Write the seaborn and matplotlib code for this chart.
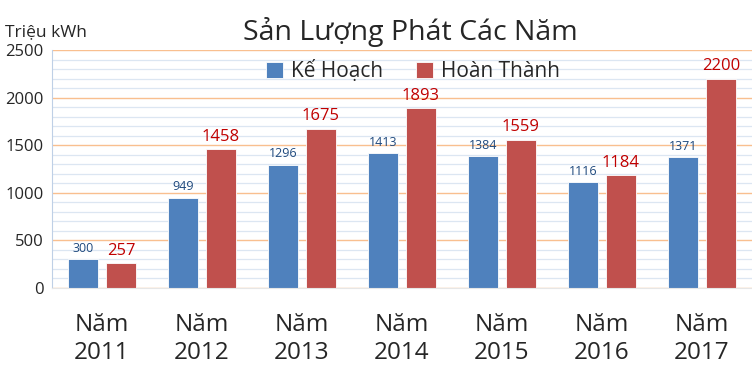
import seaborn as sns
import matplotlib.pyplot as plt
import pandas as pd
from matplotlib.ticker import MultipleLocator

years = ['Năm\n2011', 'Năm\n2012', 'Năm\n2013', 'Năm\n2014', 'Năm\n2015', 'Năm\n2016', 'Năm\n2017']
ke_hoach = [300, 949, 1296, 1413, 1384, 1116, 1371]
hoan_thanh = [257, 1458, 1675, 1893, 1559, 1184, 2200]
series = ['Kế Hoạch', 'Hoàn Thành']

df = pd.DataFrame({
    'year': years * 2,
    'value': ke_hoach + hoan_thanh,
    'series': [series[0]] * len(years) + [series[1]] * len(years),
})

sns.set_style('white')
plt.rcParams['font.family'] = ['Open Sans', 'DejaVu Sans']

fig = plt.figure(figsize=(7.52, 3.73), dpi=100)
ax = fig.add_axes([0.069, 0.228, 0.931, 0.638])

pal = {'Kế Hoạch': '#4F81BD', 'Hoàn Thành': '#C0504D'}
sns.barplot(data=df, x='year', y='value', hue='series', palette=pal,
            width=0.76, gap=0.2, saturation=1, ax=ax, legend=True,
            edgecolor='white', linewidth=0.6)

# data labels
lab_col = ['#1F497D', '#C00000']
lab_size = [9, 12]
for i, cont in enumerate(ax.containers):
    ax.bar_label(cont, padding=3, color=lab_col[i], fontsize=lab_size[i])

ax.set_ylim(0, 2500)
ax.set_xlim(-0.5, 6.5)
ax.yaxis.set_major_locator(MultipleLocator(500))
ax.yaxis.set_minor_locator(MultipleLocator(100))
ax.grid(which='minor', axis='y', color='#DCE6F2', linewidth=0.9)
ax.grid(which='major', axis='y', color='#F9BF8F', linewidth=1.0)
ax.set_axisbelow(True)

for s in ['top', 'right']:
    ax.spines[s].set_visible(False)
ax.spines['left'].set_color('#BFD0E6')
ax.spines['bottom'].set_color('#E6E6E6')

ax.set_xlabel('')
ax.set_ylabel('')
ax.tick_params(axis='y', labelsize=12, length=0, pad=6)
ax.tick_params(axis='x', labelsize=17.5, length=0, pad=18)
for t in ax.get_xticklabels():
    t.set_linespacing(1.25)

ax.legend(loc='upper center', bbox_to_anchor=(0.516, 1.0), ncol=2, frameon=False,
          fontsize=15, handlelength=0.8, handleheight=0.8, handletextpad=0.4,
          columnspacing=1.6, borderaxespad=0.1)

fig.text(0.545, 0.915, 'Sản Lượng Phát Các Năm', ha='center', va='center', fontsize=20.5)
fig.text(0.006, 0.915, 'Triệu kWh', ha='left', va='center', fontsize=12.5)

fig.savefig('out.png', dpi=100)
